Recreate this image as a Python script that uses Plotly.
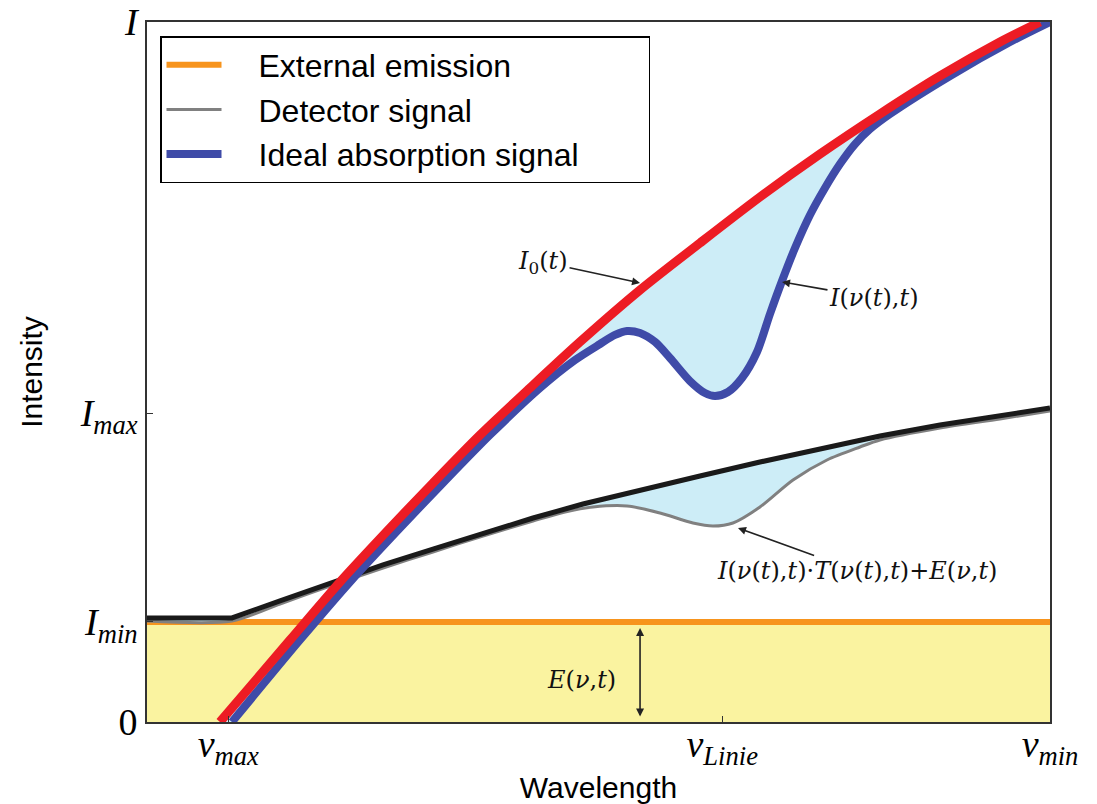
import plotly.graph_objects as go

# ---- data (x: 0..100 wavelength axis, y: 0..100 intensity axis) ----
red_x = [8.08, 15.84, 21.37, 26.91, 31.67, 36.88, 42.41, 47.95, 54.60, 61.24, 67.88, 74.53, 81.17, 87.82, 94.46, 98.89]
red_y = [0.0, 11.71, 20.0, 27.71, 34.14, 41.0, 47.71, 54.29, 61.71, 68.43, 75.0, 81.14, 86.86, 92.29, 97.14, 100.0]

blue_x = [9.41, 16.94, 22.48, 28.02, 32.78, 37.98, 43.52, 47.40, 50.17, 51.83, 53.16, 54.60, 56.26, 57.92,
          60.13, 61.79, 62.90, 64.34, 65.89, 67.55, 68.99, 70.32, 71.76, 73.42, 75.08, 76.74, 78.41, 80.07,
          82.28, 88.93, 95.57, 100.0]
blue_y = [0.0, 11.71, 20.0, 27.71, 34.14, 41.0, 47.71, 51.71, 54.0, 55.29, 55.86, 55.57, 54.29, 52.0,
          48.71, 47.0, 46.57, 47.14, 49.14, 52.86, 58.29, 63.0, 67.71, 72.43, 76.29, 79.71, 82.57, 84.71,
          86.86, 92.29, 97.14, 100.0]

black_x = [0, 9.41, 14.73, 20.60, 26.14, 31.67, 37.21, 42.75, 48.28, 54.60, 61.24, 67.88, 74.53, 81.17, 87.82, 94.46, 100]
black_y = [14.86, 14.86, 17.29, 20.0, 22.43, 24.71, 27.0, 29.14, 31.14, 33.14, 35.14, 37.14, 39.0, 40.86, 42.43, 43.71, 44.86]

gray_x = [0, 9.41, 14.73, 20.60, 26.14, 31.67, 37.21, 42.75, 46.29, 49.39, 53.16, 56.81, 60.46, 62.68, 64.89,
          67.88, 71.54, 75.30, 78.96, 81.17, 87.82, 94.46, 100]
gray_y = [14.43, 14.43, 16.86, 19.57, 22.0, 24.29, 26.57, 28.71, 30.0, 30.71, 30.86, 29.86, 28.43, 28.0, 28.43,
          30.71, 34.57, 37.43, 39.29, 40.29, 42.0, 43.29, 44.43]

emission_x = [0, 100]
emission_y = [14.29, 14.29]

ytick_vals = [0, 14.29, 44.14, 100]
ytick_text = ["0", "<i>I</i><sub><i>min</i></sub>", "<i>I</i><sub><i>max</i></sub>", "<i>I</i>"]
xtick_vals = [9.0, 63.7, 100]
xtick_text = ["<i>ν</i><sub><i>max</i></sub>", "<i>ν</i><sub><i>Linie</i></sub>", "<i>ν</i><sub><i>min</i></sub>"]

YELLOW = "#FAF3A0"
ORANGE = "#F7941D"
RED = "#ED1C24"
BLUE = "#3F4BA8"
GRAY = "#808080"
BLACK = "#1A1A1A"
LIGHTBLUE = "#CDEDF7"

SERIF = "Liberation Serif, DejaVu Serif, serif"
ANN_SERIF = "DejaVu Serif, Liberation Serif, serif"
SANS = "Liberation Sans, Arial, sans-serif"
PAD = "\u2003"

fig = go.Figure()

# yellow emission area
fig.add_trace(go.Scatter(x=emission_x, y=emission_y, mode="lines", line=dict(width=0),
                         fill="tozeroy", fillcolor=YELLOW, showlegend=False, hoverinfo="skip"))
# external emission line
fig.add_trace(go.Scatter(x=emission_x, y=emission_y, mode="lines", name=PAD + "External emission",
                         line=dict(color=ORANGE, width=6), legendrank=1))
# detector signal (gray) then black reference with fill between
fig.add_trace(go.Scatter(x=gray_x, y=gray_y, mode="lines", name=PAD + "Detector signal",
                         line=dict(color=GRAY, width=3, shape="spline", smoothing=0.8), legendrank=2))
fig.add_trace(go.Scatter(x=black_x, y=black_y, mode="lines", line=dict(color=BLACK, width=5),
                         fill="tonexty", fillcolor=LIGHTBLUE, showlegend=False))
# ideal absorption signal (blue) then I0 (red) with fill between
fig.add_trace(go.Scatter(x=blue_x, y=blue_y, mode="lines", name=PAD + "Ideal absorption signal" + PAD + PAD,
                         line=dict(color=BLUE, width=8, shape="spline", smoothing=0.8), legendrank=3))
fig.add_trace(go.Scatter(x=red_x, y=red_y, mode="lines", line=dict(color=RED, width=9, shape="spline", smoothing=0.8),
                         fill="tonexty", fillcolor=LIGHTBLUE, showlegend=False))

ann_font = dict(family=ANN_SERIF, size=24, color="#111")
arrow_common = dict(showarrow=True, arrowhead=2, arrowsize=1.0, arrowwidth=1.6, arrowcolor="#222",
                    xref="x", yref="y")
fig.add_annotation(x=54.60, y=62.71, ax=-97, ay=-21, text="<i>I</i><sub>0</sub>(<i>t</i>)",
                   font=ann_font, **arrow_common)
fig.add_annotation(x=70.32, y=62.86, ax=92, ay=16, text="<i>I</i>(<i>ν</i>(<i>t</i>),<i>t</i>)",
                   font=ann_font, **arrow_common)
fig.add_annotation(x=65.45, y=27.71, ax=119, ay=43,
                   text="<i>I</i>(<i>ν</i>(<i>t</i>),<i>t</i>)·<i>T</i>(<i>ν</i>(<i>t</i>),<i>t</i>)+<i>E</i>(<i>ν</i>,<i>t</i>)",
                   font=ann_font, **arrow_common)
fig.add_annotation(x=48.17, y=6.0, text="<i>E</i>(<i>ν</i>,<i>t</i>)", showarrow=False, font=ann_font,
                   xref="x", yref="y")
fig.add_annotation(x=54.6, y=13.43, ax=54.6, ay=0.57, axref="x", ayref="y", text="",
                   showarrow=True, arrowhead=2, arrowside="end+start", arrowsize=1.0, arrowwidth=1.6,
                   arrowcolor="#222", xref="x", yref="y")

fig.update_layout(
    width=1097, height=804,
    margin=dict(l=147, r=47, t=22, b=82, autoexpand=False),
    paper_bgcolor="white", plot_bgcolor="white",
    legend=dict(x=0.0144, y=0.98, xanchor="left", yanchor="top", bgcolor="white",
                bordercolor="black", borderwidth=1.5, font=dict(family=SANS, size=32, color="black"),
                itemwidth=55, tracegroupgap=0, traceorder="normal"),
    xaxis=dict(range=[0, 100], tickvals=xtick_vals, ticktext=xtick_text, ticks="inside", ticklen=6,
               tickcolor="#333", showgrid=False, zeroline=False, showline=True, linecolor="#333",
               linewidth=1.6, mirror=True, tickfont=dict(family=SERIF, size=38, color="black"),
               ticklabelstandoff=-12,
               title=dict(text="Wavelength", font=dict(family=SANS, size=30, color="black"), standoff=8)),
    yaxis=dict(range=[0, 100], tickvals=ytick_vals, ticktext=ytick_text, ticks="inside", ticklen=6,
               tickcolor="#333", showgrid=False, zeroline=False, showline=True, linecolor="#333",
               linewidth=1.6, mirror=True, tickfont=dict(family=SERIF, size=38, color="black"),
               title=dict(text="Intensity", font=dict(family=SANS, size=30, color="black"), standoff=28)),
)

fig.write_html("out.html", config={"displayModeBar": False},
               post_script="document.body.style.margin='0';")
